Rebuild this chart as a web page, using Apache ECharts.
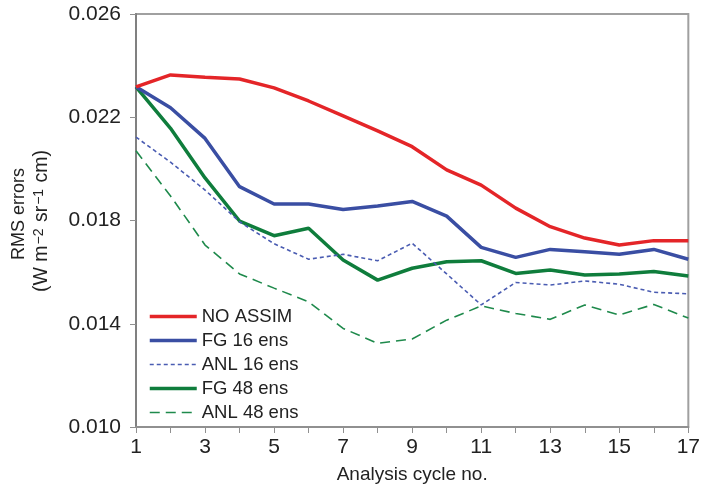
<!DOCTYPE html>
<html>
<head>
<meta charset="utf-8">
<script src="https://cdn.jsdelivr.net/npm/echarts@6/dist/echarts.min.js"></script>
<style>
html,body{margin:0;padding:0;background:#fff;}
#chart{width:703px;height:489px;}
</style>
</head>
<body>
<div id="chart"></div>
<script>
const cycles = [1,2,3,4,5,6,7,8,9,10,11,12,13,14,15,16,17];
const noAssim = [0.02318,0.02364,0.02355,0.02348,0.02314,0.02263,0.02205,0.02147,0.02086,0.01996,0.01937,0.01848,0.01776,0.01732,0.01705,0.01722,0.01722];
const fg16 = [0.02318,0.02237,0.02118,0.01931,0.01864,0.01864,0.01843,0.01856,0.01874,0.01817,0.01696,0.01657,0.01688,0.01679,0.01669,0.01688,0.01650];
const anl16 = [0.02123,0.02026,0.01918,0.01795,0.01710,0.01650,0.01669,0.01644,0.01712,0.01593,0.01473,0.01560,0.01550,0.01566,0.01553,0.01522,0.01516];
const fg48 = [0.02318,0.02157,0.01965,0.01798,0.01741,0.01770,0.01647,0.01569,0.01615,0.01640,0.01644,0.01595,0.01608,0.01589,0.01593,0.01602,0.01585];
const anl48 = [0.02070,0.01895,0.01705,0.01593,0.01538,0.01485,0.01382,0.01324,0.01341,0.01414,0.01469,0.01440,0.01417,0.01473,0.01434,0.01475,0.01422];
const seriesNames = ['NO ASSIM','FG 16 ens','ANL 16 ens','FG 48 ens','ANL 48 ens'];
const yTicks = [0.010,0.014,0.018,0.022,0.026];

const FONT = 'Liberation Sans, Arial, sans-serif';
const chart = echarts.init(document.getElementById('chart'), null, {renderer:'canvas'});
const pairs = arr => arr.map((v,i)=>[cycles[i], v]);

const styles = [
  {color:'#e42528', width:3.5, type:'solid'},
  {color:'#3a4ea3', width:3.5, type:'solid'},
  {color:'#4a5cb2', width:1.6, type:[4,3]},
  {color:'#0f7d3c', width:3.5, type:'solid'},
  {color:'#1f8a4c', width:1.6, type:[10,6]}
];
const datas = [noAssim, fg16, anl16, fg48, anl48];

chart.setOption({
  animation:false,
  backgroundColor:'#fff',
  grid:{left:136, right:9, top:14, bottom:62, show:true, borderColor:'#a0a0a0', borderWidth:2},
  legend:{
    orient:'vertical', left:148, top:307, padding:0, itemWidth:47, itemHeight:14, itemGap:5,
    itemStyle:{opacity:0},
    lineStyle:{width:'inherit'},
    textStyle:{fontFamily:FONT, fontSize:18.5, color:'#222', padding:[0,0,0,0]},
    data: seriesNames.map((n,i)=>({name:n, lineStyle:{width:styles[i].width, type:styles[i].type, color:styles[i].color}}))
  },
  xAxis:{
    type:'value', min:1, max:17, interval:1,
    name:'Analysis cycle no.', nameLocation:'middle', nameGap:38,
    nameTextStyle:{fontFamily:FONT, fontSize:19, color:'#222'},
    axisLine:{show:true, lineStyle:{color:'#909090', width:2}},
    axisTick:{show:true, inside:false, length:6, lineStyle:{color:'#909090', width:1}},
    axisLabel:{fontFamily:FONT, fontSize:21, color:'#222', margin:10,
      formatter: v => (Math.round(v) % 2 === 1 ? String(Math.round(v)) : '')},
    splitLine:{show:false}
  },
  yAxis:{
    type:'value', min:yTicks[0], max:yTicks[yTicks.length-1], interval:0.004,
    axisLine:{show:true, lineStyle:{color:'#808080', width:2}},
    axisTick:{show:true, inside:false, length:6, lineStyle:{color:'#909090', width:1}},
    axisLabel:{fontFamily:FONT, fontSize:21, color:'#222', margin:15,
      formatter: v => v.toFixed(3)},
    splitLine:{show:false}
  },
  graphic:[
    {type:'text', x:19, y:214, rotation:Math.PI/2,
      style:{text:'RMS errors', fontFamily:FONT, fontSize:18, fill:'#222', align:'center', verticalAlign:'middle'}},
    {type:'text', x:42, y:221, rotation:Math.PI/2,
      style:{text:'(W m{s|\u22122} sr{s|\u22121} cm)', fontFamily:FONT, fontSize:19.5, fill:'#222', align:'center', verticalAlign:'middle',
        rich:{s:{fontFamily:FONT, fontSize:14, fill:'#222', verticalAlign:'top', padding:[0,1,6,1]}}}}
  ],
  series: datas.map((d,i)=>({
    name:seriesNames[i], type:'line', data:pairs(d), symbol:'none', showSymbol:false,
    lineStyle:{color:styles[i].color, width:styles[i].width, type:styles[i].type},
    itemStyle:{color:styles[i].color},
    z: 10 - i
  }))
});
</script>
</body>
</html>
